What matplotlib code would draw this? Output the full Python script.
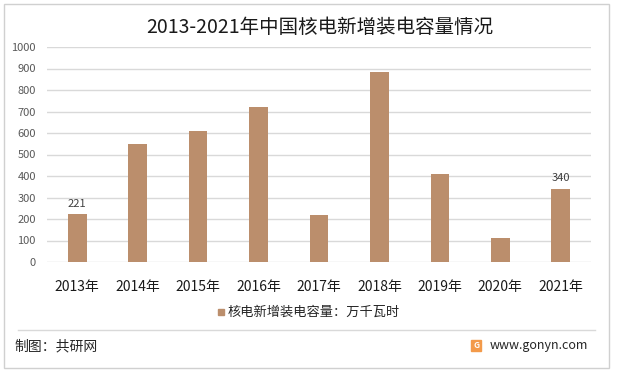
import matplotlib.pyplot as plt
from matplotlib.patches import Rectangle

plt.rcParams['font.family'] = ['Noto Sans CJK SC', 'DejaVu Sans']

years = ['2013年', '2014年', '2015年', '2016年', '2017年', '2018年', '2019年', '2020年', '2021年']
capacity = [221, 547, 608, 720, 218, 884, 409, 112, 340]
labelled = {0: '221', 8: '340'}
yticks = [0, 100, 200, 300, 400, 500, 600, 700, 800, 900, 1000]

bar_color = '#BB8E6C'
W, H = 617, 374

fig = plt.figure(figsize=(W / 100, H / 100), dpi=100)

# outer frame
fig.patches.append(Rectangle((4 / W, 1 - 368 / H), 605 / W, 364 / H,
                             transform=fig.transFigure, fill=False,
                             edgecolor='#D0D0D0', linewidth=1))

ax = fig.add_axes([47 / W, 1 - 262 / H, 544 / W, 215 / H])
x = range(len(years))
ax.bar(x, capacity, width=0.31, color=bar_color, zorder=3)
for i, txt in labelled.items():
    ax.annotate(txt, (i, capacity[i]), xytext=(0, 4), textcoords='offset points',
                ha='center', va='bottom', fontsize=8, color='#404040')

ax.set_xlim(-0.5, len(years) - 0.5)
ax.set_ylim(0, 1000)
ax.set_yticks(yticks)
ax.set_xticks(list(x))
ax.set_xticklabels(years, fontsize=10, color='#1a1a1a')
ax.tick_params(axis='y', length=0, pad=8, labelsize=8, labelcolor='#595959')
ax.tick_params(axis='x', length=0, pad=13)
ax.grid(axis='y', color='#D9D9D9', linewidth=1, zorder=0)
for s in ax.spines.values():
    s.set_visible(False)

fig.text(320 / W, 1 - 27 / H, '2013-2021年中国核电新增装电容量情况', ha='center', va='center',
         fontsize=14, color='#1a1a1a')

# legend
fig.patches.append(Rectangle((218 / W, 1 - 315 / H), 6 / W, 6 / H,
                             transform=fig.transFigure, color=bar_color))
fig.text(228 / W, 1 - 312 / H, '核电新增装电容量：万千瓦时', ha='left', va='center',
         fontsize=9.5, color='#262626')

# footer
fig.add_artist(plt.Line2D([18 / W, 595 / W], [1 - 330 / H, 1 - 330 / H],
                          transform=fig.transFigure, color='#D9D9D9', linewidth=1))
fig.text(14 / W, 1 - 346 / H, '制图：共研网', ha='left', va='center', fontsize=10, color='#262626')
fig.patches.append(Rectangle((471 / W, 1 - 351 / H), 10 / W, 11 / H,
                             transform=fig.transFigure, color='#F39A4A'))
fig.text(476 / W, 1 - 345.5 / H, 'G', ha='center', va='center', fontsize=6,
         color='white', fontweight='bold')
fig.text(490 / W, 1 - 345 / H, 'www.gonyn.com', ha='left', va='center', fontsize=9, color='#262626')

fig.savefig('out.png', dpi=100)
